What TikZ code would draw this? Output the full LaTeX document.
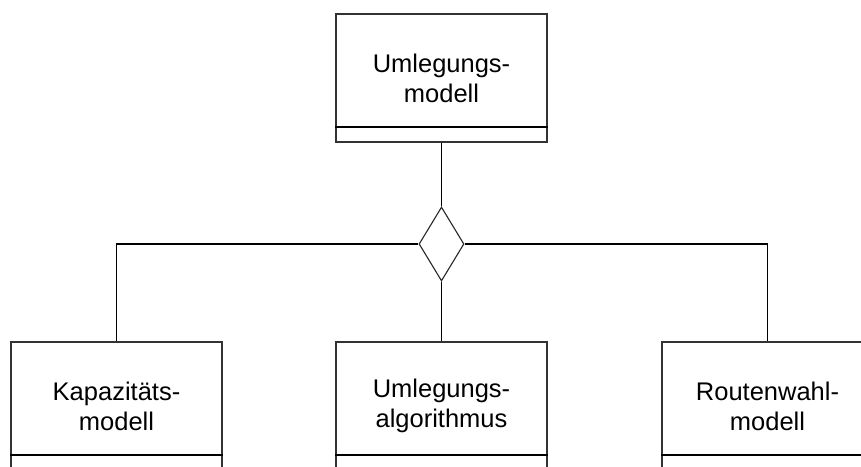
\documentclass[tikz,border=0pt]{standalone}
\usepackage{fontspec}
\setmainfont{Liberation Sans}
\usetikzlibrary{shapes.geometric, calc}

\begin{document}
\begin{tikzpicture}[
    x=1pt, y=-1pt,
    klasse/.style={rectangle, draw=black!80, line width=1.2pt, minimum width=211pt,
                minimum height=128pt, align=center, inner sep=0pt,
                font=\fontsize{25.5}{30}\selectfont},
    raute/.style={diamond, draw=black!85, line width=1.1pt, minimum width=45pt,
                minimum height=74pt, inner sep=0pt},
    trenn/.style={line width=2pt, draw=black},
    verb/.style={line width=1.3pt, draw=black}
]
\useasboundingbox (0,0) rectangle (861,466);
\clip (0,0) rectangle (861,466);
\node[klasse] (umlegung) at (441.5,78) {Umlegungs-\\modell};
\node[raute] (verzweig) at (441.5,244) {};
\node[klasse] (kapazitaet) at (116.5,406) {Kapazitäts-\\modell};
\node[klasse] (algorithmus) at (441.5,406) {Umlegungs-\\algorithmus};
\node[klasse] (routenwahl) at (767.5,406) {Routenwahl-\\modell};
% Trennlinien
\foreach \k in {umlegung, kapazitaet, algorithmus, routenwahl}
  \draw[trenn] ($(\k.north west)+(0,114)$) -- ($(\k.north east)+(0,114)$);
% Verbindungen
\draw[verb] (umlegung.south) -- (verzweig.north);
\draw[verb] (verzweig.south) -- (algorithmus.north);
\draw[verb] (verzweig.west) -| (kapazitaet.north);
\draw[verb] (verzweig.east) -| (routenwahl.north);
\end{tikzpicture}
\end{document}
